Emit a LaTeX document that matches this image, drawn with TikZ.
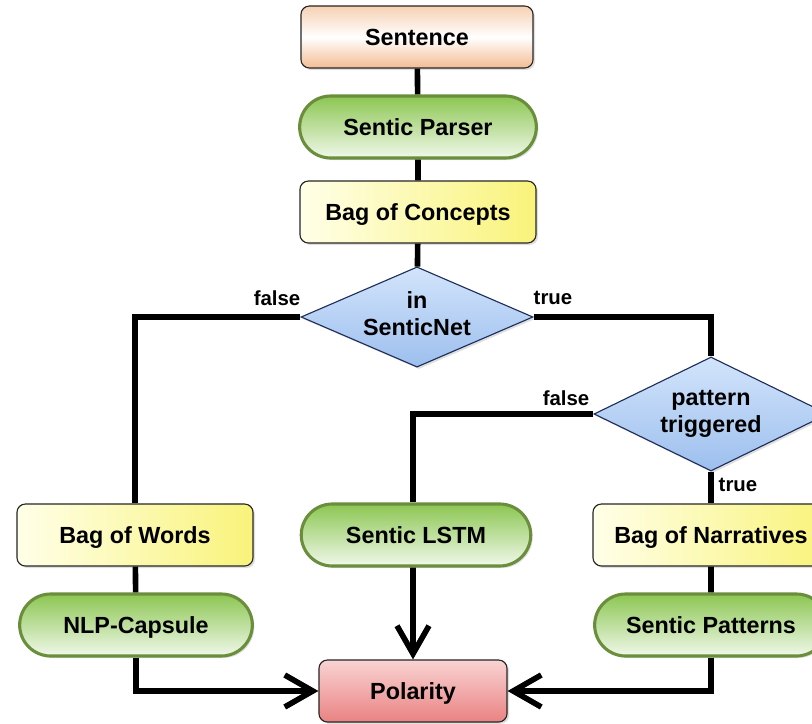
\documentclass[tikz,border=0pt]{standalone}
\usepackage{fontspec}
\setmainfont{Liberation Sans}
\usetikzlibrary{shapes.geometric,shapes.misc,arrows.meta,shadows}

\definecolor{peach}{HTML}{F3BC92}
\definecolor{lightyellow}{HTML}{FFFFE8}
\definecolor{strongyellow}{HTML}{F9F37A}
\definecolor{leafgreen}{HTML}{8CC652}
\definecolor{palegreen}{HTML}{F0F8EA}
\definecolor{olivegreen}{HTML}{6A8E3C}
\definecolor{paleblue}{HTML}{D2E4FB}
\definecolor{midblue}{HTML}{9DBFEE}
\definecolor{navyline}{HTML}{1E2D5A}
\definecolor{palepink}{HTML}{F9D3D3}
\definecolor{rosered}{HTML}{EA8282}

\tikzset{
  box/.style={draw=black!85, line width=0.8pt, rounded corners=6pt,
    minimum height=1.55cm, text height=0.45cm, text depth=0.03cm,
    font=\fontsize{16.6}{19}\selectfont\bfseries,
    drop shadow={opacity=0.25, shadow xshift=0.05cm, shadow yshift=-0.05cm}},
  startbox/.style={box, top color=peach!70, bottom color=peach,
    middle color=white, minimum width=5.8cm},
  databox/.style={box, left color=lightyellow, right color=strongyellow,
    minimum width=5.9cm},
  toolbox/.style={rounded rectangle, draw=olivegreen, line width=2.2pt,
    top color=leafgreen, bottom color=palegreen, minimum height=1.55cm,
    text height=0.45cm, text depth=0.03cm,
    minimum width=6.05cm, font=\fontsize{16.6}{19}\selectfont\bfseries,
    drop shadow={opacity=0.25, shadow xshift=0.05cm, shadow yshift=-0.05cm}},
  decision/.style={diamond, aspect=2.3, inner sep=0pt, draw=navyline,
    line width=0.8pt, top color=paleblue, bottom color=midblue,
    align=center, font=\fontsize{16.6}{19}\selectfont\bfseries,
    drop shadow={opacity=0.25, shadow xshift=0.05cm, shadow yshift=-0.05cm}},
  endbox/.style={box, top color=palepink, bottom color=rosered,
    minimum width=4.7cm},
  flow/.style={line width=4pt, black},
  arr/.style={flow, -{Straight Barb[length=0.7cm,width=0.8cm]}},
  cond/.style={font=\fontsize{14.5}{16}\selectfont\bfseries}
}

\begin{document}
\begin{tikzpicture}[x=0.025cm,y=-0.025cm]
  \useasboundingbox (0,0) rectangle (812,724);

  \node[startbox] (sentence) at (417,37) {Sentence};
  \node[toolbox, minimum width=6.15cm] (parser) at (418,127) {Sentic Parser};
  \node[databox] (concepts) at (418,212) {Bag of Concepts};

  \node[decision, minimum width=5.8cm, minimum height=2.45cm]
    (insentic) at (417,317)
    {\raisebox{0.18cm}{\begin{tabular}{@{}c@{}}in\\SenticNet\end{tabular}}};
  \node[decision, minimum width=5.85cm, minimum height=2.85cm]
    (pattern) at (711,414) {pattern\\triggered};

  \node[databox] (words) at (135,535) {Bag of Words};
  \node[toolbox, minimum width=5.97cm] (lstm) at (416,535) {Sentic LSTM};
  \node[databox] (narratives) at (711,535) {Bag of Narratives};

  \node[toolbox] (capsule) at (136,625) {NLP-Capsule};
  \node[toolbox] (patterns) at (711,625) {Sentic Patterns};

  \node[endbox] (polarity) at (413,691) {Polarity};

  % branch labels
  \node[cond] (nofound) at (277,298) {false};
  \node[cond] (found) at (553,298) {true};
  \node[cond] (nopattern) at (566,398) {false};
  \node[cond] (haspattern) at (738,485) {true};

  \draw[flow] (sentence) -- (parser);
  \draw[flow] (parser) -- (concepts);
  \draw[flow] (concepts) -- (insentic);
  \draw[flow] (insentic.west) -| (words.north);
  \draw[flow] (insentic.east) -| (pattern.north);
  \draw[flow] (pattern.west) -| ([xshift=-0.075cm]lstm.north);
  \draw[flow] (pattern.south) -- (narratives.north);
  \draw[flow] (words) -- (capsule);
  \draw[flow] (narratives) -- (patterns);

  \draw[arr] (capsule.south) |- (polarity.west);
  \draw[arr] (patterns.south) |- (polarity.east);
  \draw[arr] ([xshift=-0.075cm]lstm.south) -- (polarity.north);
\end{tikzpicture}
\end{document}
